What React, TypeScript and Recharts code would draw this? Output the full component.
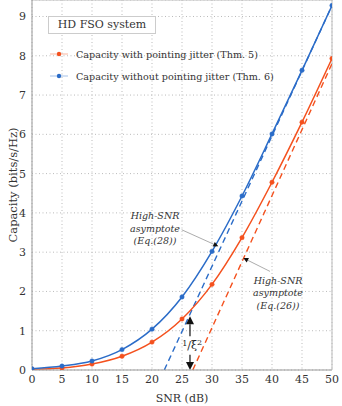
import React from 'react';
import {
  LineChart,
  Line,
  XAxis,
  YAxis,
  CartesianGrid,
  ReferenceLine,
  ReferenceDot,
  Legend
} from 'recharts';

const snrDb = [0, 5, 10, 15, 20, 25, 30, 35, 40, 45, 50];
const withJitter = [0.02, 0.05, 0.15, 0.35, 0.71, 1.3, 2.18, 3.37, 4.78, 6.31, 7.93];
const withoutJitter = [0.03, 0.1, 0.23, 0.52, 1.04, 1.86, 3.02, 4.43, 6.01, 7.63, 9.28];

// asymptote end points (SNR dB, capacity)
const asymWithout = [[22.05, 0], [50, 9.28]];
const asymWith = [[26.8, 0], [50, 7.8]];

const xTicks = [0, 5, 10, 15, 20, 25, 30, 35, 40, 45, 50];
const yTicks = [0, 1, 2, 3, 4, 5, 6, 7, 8, 9];

const legendTitle = 'HD FSO system';
const seriesNames = ['Capacity with pointing jitter (Thm. 5)', 'Capacity without pointing jitter (Thm. 6)'];
const note28 = ['High-SNR', 'asymptote', '(Eq.(28))'];
const note26 = ['High-SNR', 'asymptote', '(Eq.(26))'];

const RED = '#f4511e';
const BLUE = '#2b6cc8';
const FONT = 'DejaVu Serif';

const rows = snrDb.map((s, i) => ({ snr: s, withJitter: withJitter[i], withoutJitter: withoutJitter[i] }));
const toPts = (arr: number[][]) => arr.map(([s, c]) => ({ snr: s, c }));

const arrowShape = (lineColor: string, headColor: string, width: number, len: number, half: number) =>
  (props: any) => {
    const { x1, y1, x2, y2 } = props;
    const a = Math.atan2(y2 - y1, x2 - x1);
    const bx = x2 - len * Math.cos(a);
    const by = y2 - len * Math.sin(a);
    const px = -Math.sin(a) * half;
    const py = Math.cos(a) * half;
    return (
      <g>
        <line x1={x1} y1={y1} x2={bx} y2={by} stroke={lineColor} strokeWidth={width} />
        <polygon points={`${x2},${y2} ${bx + px},${by + py} ${bx - px},${by - py}`} fill={headColor} />
      </g>
    );
  };

const noteShape = (lines: string[]) => (props: any) => (
  <text x={props.cx} y={props.cy + 3.5} textAnchor="middle" fontStyle="italic" fontSize={9.5} fontFamily={FONT} fill="#333">
    {lines.map((l, i) => (
      <tspan key={i} x={props.cx} dy={i === 0 ? 0 : 12.5}>{l}</tspan>
    ))}
  </text>
);

const gapShape = (props: any) => (
  <text x={props.cx} y={props.cy + 4} textAnchor="middle" fontSize={11} fontFamily={FONT} fill="#222">
    <tspan fontSize={8} dy={-3}>1</tspan>
    <tspan dy={3}>/ξ</tspan>
    <tspan fontSize={8} dy={-4}>2</tspan>
  </text>
);

const renderLegend = () => (
  <div style={{ fontFamily: FONT, color: '#333' }}>
    <div style={{ border: '1px solid #ccc', width: 106, height: 16, lineHeight: '16px', fontSize: 11, textAlign: 'center', background: '#fff' }}>
      {legendTitle}
    </div>
    {seriesNames.map((name, i) => {
      const c = i === 0 ? RED : BLUE;
      return (
        <div key={name} style={{ display: 'flex', alignItems: 'center', height: 22, marginTop: i === 0 ? 9 : 0, fontSize: 9.6, whiteSpace: 'nowrap' }}>
          <svg width={28} height={8}>
            <line x1={2} y1={4} x2={20} y2={4} stroke={c} strokeOpacity={0.35} strokeWidth={1.2} />
            <circle cx={11} cy={4} r={2.2} fill={c} />
          </svg>
          <span>{name}</span>
        </div>
      );
    })}
  </div>
);

export default function App() {
  return (
    <div style={{ position: 'absolute', left: 0, top: 0, background: '#fff' }}>
      <LineChart width={342} height={406} data={rows} margin={{ top: 0, right: 10, bottom: 0, left: 0 }}
        style={{ fontFamily: FONT }}>
        <CartesianGrid strokeDasharray="1 2.5" stroke="#bbb" />
        <XAxis dataKey="snr" type="number" domain={[0, 50]} ticks={xTicks} allowDataOverflow
          height={36} stroke="#999" tickLine={false} tickSize={3}
          tick={{ fill: '#333', fontSize: 11, fontFamily: FONT }}
          label={{ value: 'SNR (dB)', position: 'insideBottom', offset: 4, fill: '#333', fontSize: 11, fontFamily: FONT }} />
        <YAxis type="number" domain={[0, 9.42]} ticks={yTicks} allowDataOverflow width={32}
          stroke="#999" tickLine={false} tickSize={4}
          tick={{ fill: '#333', fontSize: 11, fontFamily: FONT }}
          label={{ value: 'Capacity (bits/s/Hz)', angle: -90, position: 'insideLeft', offset: 13, fill: '#333', fontSize: 11.5, fontFamily: FONT, style: { textAnchor: 'middle' } }} />
        <ReferenceLine y={9.42} stroke="#bbb" />
        <ReferenceLine x={50} stroke="#bbb" />
        <Legend content={renderLegend} layout="vertical" align="center" verticalAlign="middle"
          wrapperStyle={{ top: 16, left: 48, width: 260 }} />
        <Line data={toPts(asymWithout)} dataKey="c" stroke={BLUE} strokeWidth={1.4} strokeDasharray="6 4" dot={false} isAnimationActive={false} legendType="none" />
        <Line data={toPts(asymWith)} dataKey="c" stroke={RED} strokeWidth={1.4} strokeDasharray="6 4" dot={false} isAnimationActive={false} legendType="none" />
        <Line dataKey="withJitter" type="monotone" stroke={RED} strokeWidth={1.5} dot={{ r: 2.2, fill: RED, stroke: RED, strokeWidth: 0.5 }} isAnimationActive={false} />
        <Line dataKey="withoutJitter" type="monotone" stroke={BLUE} strokeWidth={1.5} dot={{ r: 2.2, fill: BLUE, stroke: BLUE, strokeWidth: 0.5 }} isAnimationActive={false} />
        {/* annotation leaders */}
        <ReferenceLine segment={[{ x: 24.95, y: 3.57 }, { x: 31.05, y: 3.15 }]} shape={arrowShape('#888', '#111', 0.7, 5, 2.5)} />
        <ReferenceLine segment={[{ x: 39.67, y: 2.51 }, { x: 35.22, y: 2.85 }]} shape={arrowShape('#888', '#111', 0.7, 5, 2.5)} />
        <ReferenceDot x={20.5} y={3.93} r={0} shape={noteShape(note28)} />
        <ReferenceDot x={41} y={2.28} r={0} shape={noteShape(note26)} />
        {/* 1/xi^2 gap arrows */}
        <ReferenceLine segment={[{ x: 26.33, y: 0.86 }, { x: 26.33, y: 1.37 }]} shape={arrowShape('#111', '#111', 1.2, 8, 4)} />
        <ReferenceLine segment={[{ x: 26.33, y: 0.39 }, { x: 26.33, y: 0 }]} shape={arrowShape('#111', '#111', 1.2, 8, 4)} />
        <ReferenceDot x={26.7} y={0.63} r={0} shape={gapShape} />
      </LineChart>
    </div>
  );
}
